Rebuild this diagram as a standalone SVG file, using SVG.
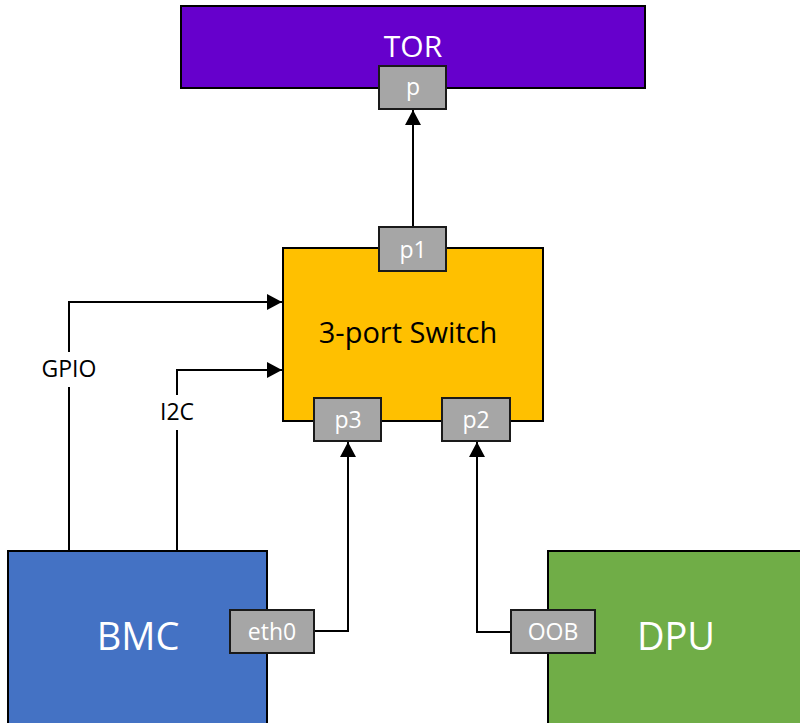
<svg xmlns="http://www.w3.org/2000/svg" width="800" height="723" viewBox="0 0 800 723">
<style>
.box{stroke:#000;stroke-width:2}
.port{fill:#A6A6A6;stroke:#1a1a1a;stroke-width:2}
.pt{font-family:"Open Sans",sans-serif;font-size:23px;fill:#fff;text-anchor:middle}
.big{font-family:"Open Sans",sans-serif;fill:#fff;text-anchor:middle}
.lbl{font-family:"Open Sans",sans-serif;font-size:23px;fill:#000;text-anchor:middle}
.wire{fill:none;stroke:#000;stroke-width:2}
</style>
<defs>
<marker id="arr" markerWidth="15" markerHeight="16" refX="15" refY="8" orient="auto" markerUnits="userSpaceOnUse">
<path d="M0,0 L15,8 L0,16 Z" fill="#000"/>
</marker>
</defs>
<rect width="800" height="723" fill="#fff"/>
<g id="connectors">
<path class="wire" d="M413,227 L413,110" marker-end="url(#arr)"/>
<path class="wire" d="M69,551 L69,387 M69,352 L69,302 L282,302" marker-end="url(#arr)"/>
<path class="wire" d="M177,551 L177,430 M177,395 L177,370 L282,370" marker-end="url(#arr)"/>
<path class="wire" d="M314,631 L348,631 L348,442" marker-end="url(#arr)"/>
<path class="wire" d="M511,632 L477,632 L477,442" marker-end="url(#arr)"/>
<text class="lbl" x="69" y="377">GPIO</text>
<text class="lbl" x="177" y="420">I2C</text>
</g>
<g id="tor">
<rect class="box" x="181" y="6" width="464" height="82" fill="#6600CC"/>
<text class="big" x="413" y="57" font-size="30">TOR</text>
</g>
<g id="tor-p">
<rect class="port" x="379" y="66" width="67" height="43"/>
<text class="pt" x="413" y="95">p</text>
</g>
<g id="switch">
<rect class="box" x="283" y="248" width="260" height="173" fill="#FFC000"/>
<text class="big" x="408" y="343" font-size="29" style="fill:#000">3-port Switch</text>
</g>
<g id="switch-p1">
<rect class="port" x="379" y="227" width="67" height="44"/>
<text class="pt" x="413" y="258">p1</text>
</g>
<g id="switch-p3">
<rect class="port" x="314" y="398" width="67" height="43"/>
<text class="pt" x="348" y="428">p3</text>
</g>
<g id="switch-p2">
<rect class="port" x="442" y="398" width="68" height="43"/>
<text class="pt" x="476" y="428">p2</text>
</g>
<g id="bmc">
<rect class="box" x="8" y="551" width="259" height="180" fill="#4472C4"/>
<text class="big" x="138" y="650" font-size="38">BMC</text>
</g>
<g id="bmc-eth0">
<rect class="port" x="230" y="610" width="84" height="43"/>
<text class="pt" x="272" y="640">eth0</text>
</g>
<g id="dpu">
<rect class="box" x="548" y="551" width="260" height="180" fill="#70AD47"/>
<text class="big" x="676" y="650" font-size="38">DPU</text>
</g>
<g id="dpu-oob">
<rect class="port" x="511" y="610" width="84" height="43"/>
<text class="pt" x="553" y="640">OOB</text>
</g>
</svg>
